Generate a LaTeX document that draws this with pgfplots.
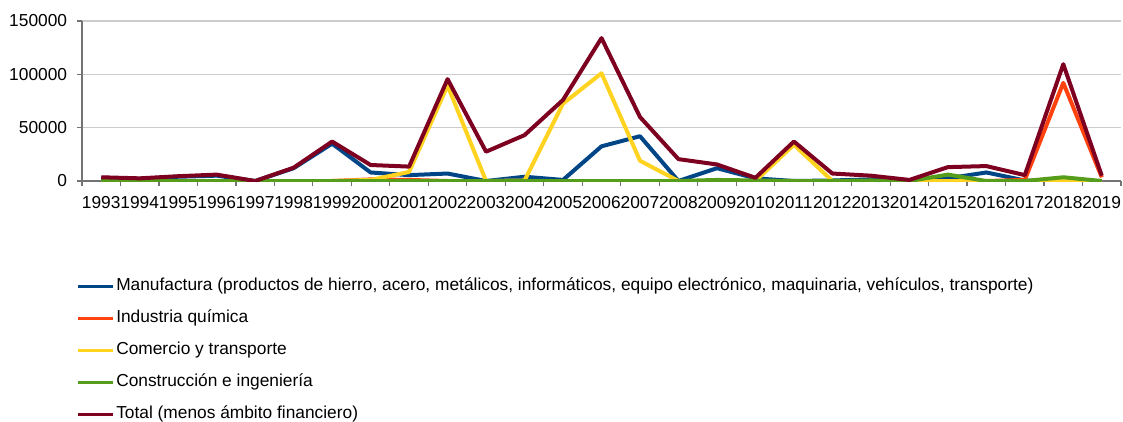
\documentclass[border=0pt]{standalone}
\usepackage{fontspec}
\setmainfont{Liberation Sans}
\usepackage{pgfplots}
\pgfplotsset{compat=1.18}
\definecolor{cManu}{HTML}{004586}
\definecolor{cQuim}{HTML}{FF420E}
\definecolor{cCom}{HTML}{FFD320}
\definecolor{cCons}{HTML}{579D1C}
\definecolor{cTot}{HTML}{7E0021}
\begin{document}
\begin{tikzpicture}
\begin{axis}[
  scale only axis,
  width=779.25pt, height=120pt,
  xmin=1992.5, xmax=2019.5,
  ymin=0, ymax=150000,
  axis lines*=left,
  axis line style={draw=black!55, line width=0.9pt},
  xtick={1993,...,2019},
  xticklabels={1993,1994,1995,1996,1997,1998,1999,2000,2001,2002,2003,2004,2005,2006,2007,2008,2009,2010,2011,2012,2013,2014,2015,2016,2017,2018,2019},
  minor xtick={1992.5,1993.5,...,2019.5},
  x tick style={draw=none},
  minor x tick style={draw=black!55, line width=0.9pt},
  minor tick length=4pt,
  ytick={0,50000,100000,150000},
  y tick style={draw=black!55, line width=0.9pt},
  major tick length=4pt,
  tick align=outside,
  ymajorgrids,
  major grid style={draw=black!20, line width=0.9pt},
  scaled y ticks=false,
  yticklabel style={/pgf/number format/fixed, /pgf/number format/set thousands separator={}},
  /pgf/number format/assume math mode=true,
  ticklabel style={font=\fontsize{13}{15}\selectfont},
  xticklabel style={inner sep=0pt, yshift=-7pt},
  yticklabel style={inner sep=0pt, xshift=-7pt},
  every axis plot/.append style={line width=3pt, line join=round},
  legend style={at={(0,0)}, anchor=north west, xshift=-4pt, yshift=-72pt,
    draw=none, fill=none, font=\fontsize{13}{15}\selectfont,
    row sep=9.9pt, inner sep=0pt,
    nodes={inner sep=1pt, text height=9pt, text depth=3pt}},
  legend cell align=left,
  legend image code/.code={\draw[#1, line width=2.25pt] (0pt,0pt) -- (26.25pt,0pt);},
]
\addplot[cManu] coordinates {(1993,3000)(1994,2000)(1995,4000)(1996,5000)(1997,0)(1998,12000)(1999,35000)(2000,8000)(2001,5500)(2002,7000)(2003,0)(2004,4000)(2005,1000)(2006,32500)(2007,42000)(2008,0)(2009,12000)(2010,2500)(2011,0)(2012,500)(2013,1500)(2014,0)(2015,2500)(2016,8000)(2017,500)(2018,0)(2019,0)};
\addlegendentry{Manufactura (productos de hierro, acero, metálicos, informáticos, equipo electrónico, maquinaria, vehículos, transporte)}
\addplot[cQuim] coordinates {(1993,0)(1994,0)(1995,0)(1996,0)(1997,0)(1998,0)(1999,0)(2000,1500)(2001,1000)(2002,0)(2003,0)(2004,0)(2005,0)(2006,0)(2007,0)(2008,0)(2009,0)(2010,0)(2011,0)(2012,0)(2013,0)(2014,0)(2015,0)(2016,0)(2017,1000)(2018,92000)(2019,3500)};
\addlegendentry{Industria química}
\addplot[cCom] coordinates {(1993,0)(1994,0)(1995,0)(1996,0)(1997,0)(1998,0)(1999,0)(2000,1000)(2001,8500)(2002,89500)(2003,0)(2004,500)(2005,72500)(2006,101000)(2007,19000)(2008,0)(2009,0)(2010,0)(2011,34000)(2012,0)(2013,0)(2014,0)(2015,0)(2016,0)(2017,0)(2018,0)(2019,0)};
\addlegendentry{Comercio y transporte}
\addplot[cCons] coordinates {(1993,0)(1994,0)(1995,0)(1996,0)(1997,0)(1998,0)(1999,0)(2000,0)(2001,0)(2002,0)(2003,0)(2004,0)(2005,0)(2006,0)(2007,0)(2008,0)(2009,1000)(2010,500)(2011,0)(2012,0)(2013,500)(2014,0)(2015,6000)(2016,0)(2017,0)(2018,3500)(2019,0)};
\addlegendentry{Construcción e ingeniería}
\addplot[cTot] coordinates {(1993,3500)(1994,2500)(1995,4500)(1996,6000)(1997,0)(1998,12500)(1999,37000)(2000,15000)(2001,13500)(2002,95500)(2003,27500)(2004,43000)(2005,76000)(2006,134000)(2007,60000)(2008,20500)(2009,15500)(2010,3000)(2011,37000)(2012,7000)(2013,5000)(2014,1000)(2015,13000)(2016,14000)(2017,5500)(2018,109500)(2019,5000)};
\addlegendentry{Total (menos ámbito financiero)}
\end{axis}
\pgfresetboundingbox
\path (-61.5pt,-180pt) rectangle (780.75pt,135.75pt);
\end{tikzpicture}
\end{document}
